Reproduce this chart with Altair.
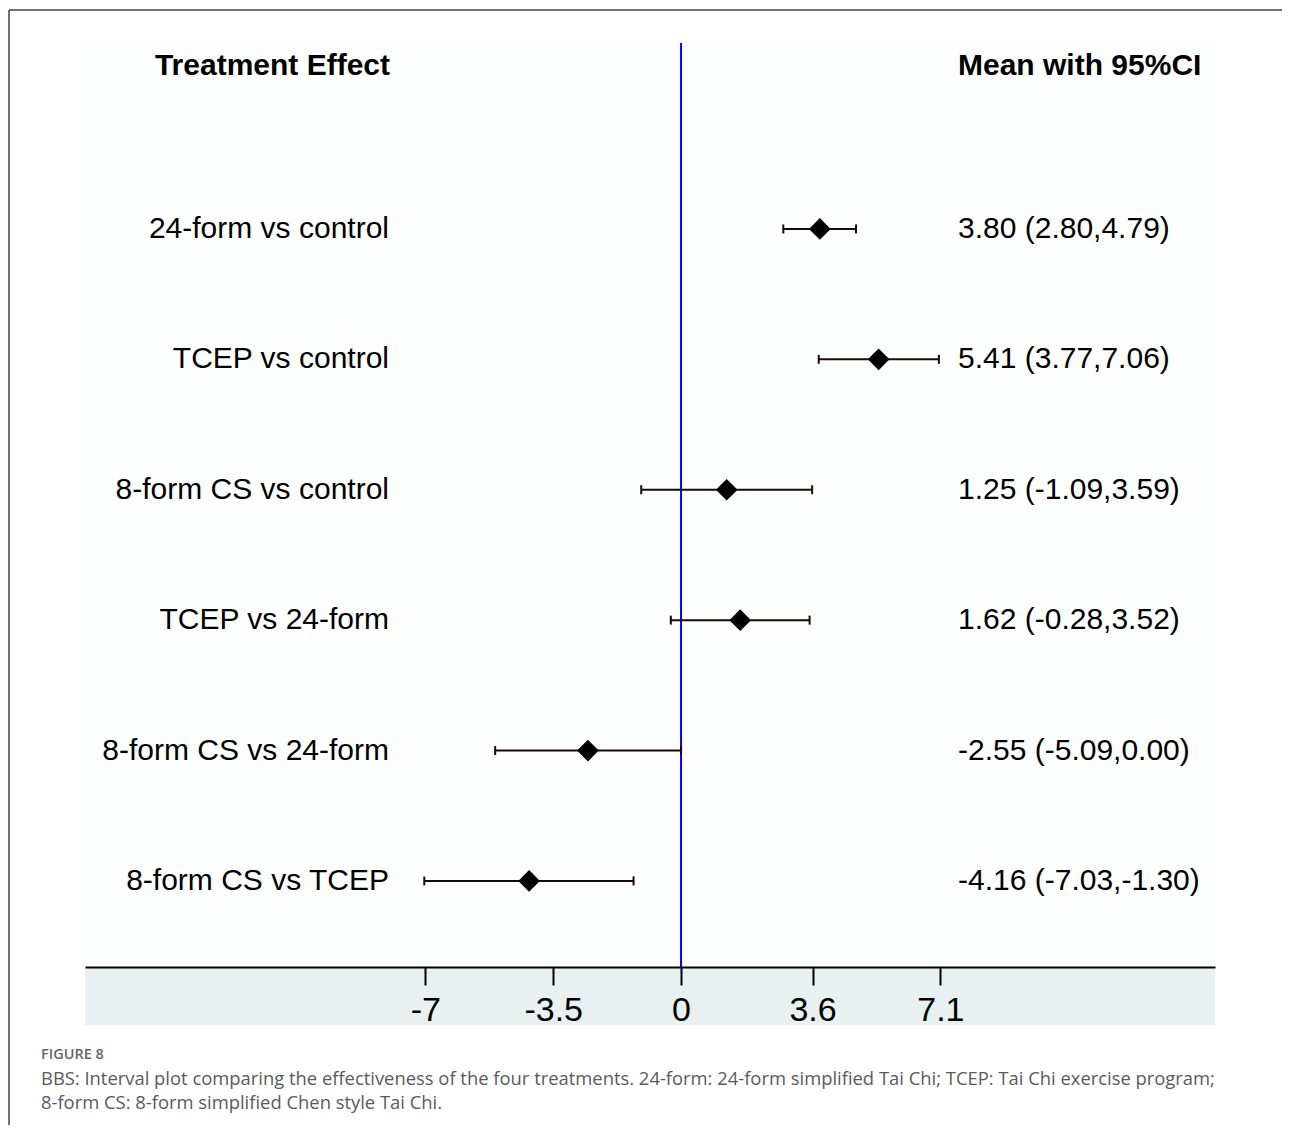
import altair as alt
import pandas as pd

# ---- data ----
labels = ["24-form vs control", "TCEP vs control", "8-form CS vs control",
          "TCEP vs 24-form", "8-form CS vs 24-form", "8-form CS vs TCEP"]
means = [3.80, 5.41, 1.25, 1.62, -2.55, -4.16]
lows = [2.80, 3.77, -1.09, -0.28, -5.09, -7.03]
highs = [4.79, 7.06, 3.59, 3.52, 0.00, -1.30]
ticks = [-7, -3.5, 0, 3.6, 7.1]
left_header = "Treatment Effect"
right_header = "Mean with 95%CI"
fig_label = "FIGURE 8"
caption_lines = [
    "BBS: Interval plot comparing the effectiveness of the four treatments. 24-form: 24-form simplified Tai Chi; TCEP: Tai Chi exercise program;",
    "8-form CS: 8-form simplified Chen style Tai Chi.",
]

df = pd.DataFrame({
    "label": labels, "mean": means, "lo": lows, "hi": highs,
    "row": list(range(1, len(labels) + 1)),
})
df["txt"] = [f"{m:.2f} ({l:.2f},{h:.2f})" for m, l, h in zip(means, lows, highs)]
zero_df = pd.DataFrame({"zero": [0]})
one = pd.DataFrame({"a": [0]})

W, H = 1130, 924
FONT = "Liberation Sans"
LINE = "#1a0808"

xscale = alt.Scale(domain=[-16.32, 14.62], nice=False, zero=False)
yscale = alt.Scale(domain=[-0.426, 6.66], reverse=True, nice=False, zero=False)
xaxis = alt.Axis(values=ticks, grid=False, domainColor="black", domainWidth=2,
                 tickColor="black", tickWidth=2, tickSize=18, labelFontSize=34,
                 labelColor="black", labelPadding=8, labelFont=FONT, zindex=1,
                 labelFlush=False, labelOverlap=False, labelExpr="datum.value + ''")
Y = alt.Y("row:Q", scale=yscale, axis=None)

band = alt.Chart(one).mark_rect(color="#e8f0f2").encode(
    x=alt.value(0), x2=alt.value(W), y=alt.value(H), y2=alt.value(H + 58))

vline = alt.Chart(zero_df).mark_rule(color="#0000ff", strokeWidth=2).encode(
    x=alt.X("zero:Q", scale=xscale, axis=xaxis, title=None),
    y=alt.value(0), y2=alt.value(H))

err = alt.Chart(df).mark_rule(color=LINE, strokeWidth=2).encode(
    x=alt.X("lo:Q", scale=xscale, axis=xaxis, title=None), x2="hi:Q", y=Y)

capL = alt.Chart(df).mark_tick(orient="vertical", size=9, thickness=2, color=LINE, opacity=1).encode(
    x=alt.X("lo:Q", scale=xscale, axis=xaxis, title=None), y=Y)
capR = alt.Chart(df).mark_tick(orient="vertical", size=9, thickness=2, color=LINE, opacity=1).encode(
    x=alt.X("hi:Q", scale=xscale, axis=xaxis, title=None), y=Y)

diam = alt.Chart(df).mark_point(shape="diamond", filled=True, size=470, color="black", opacity=1).encode(
    x=alt.X("mean:Q", scale=xscale, axis=xaxis, title=None), y=Y)

lab = alt.Chart(df).mark_text(align="right", baseline="middle", fontSize=30, font=FONT, color="black").encode(
    x=alt.value(304), y=Y, text="label:N")
val = alt.Chart(df).mark_text(align="left", baseline="middle", fontSize=30, font=FONT, color="black").encode(
    x=alt.value(873), y=Y, text="txt:N")

hdrL = alt.Chart(one).mark_text(align="right", baseline="middle", fontSize=30, font=FONT,
                                fontWeight="bold", color="black").encode(
    x=alt.value(305), y=alt.value(23), text=alt.value(left_header))
hdrR = alt.Chart(one).mark_text(align="left", baseline="middle", fontSize=30, font=FONT,
                                fontWeight="bold", color="black").encode(
    x=alt.value(873), y=alt.value(23), text=alt.value(right_header))

figlab = alt.Chart(one).mark_text(align="left", baseline="middle", fontSize=14.5, font="Open Sans",
                                  fontWeight=600, color="#666666").encode(
    x=alt.value(-44), y=alt.value(1012), text=alt.value(fig_label))
cap1 = alt.Chart(one).mark_text(align="left", baseline="middle", fontSize=18.4, font="Open Sans",
                                color="#5a5a5a").encode(
    x=alt.value(-44), y=alt.value(1036), text=alt.value(caption_lines[0]))
cap2 = alt.Chart(one).mark_text(align="left", baseline="middle", fontSize=18.4, font="Open Sans",
                                color="#5a5a5a").encode(
    x=alt.value(-44), y=alt.value(1060), text=alt.value(caption_lines[1]))

frameV = alt.Chart(one).mark_rule(color="#444444", strokeWidth=1.5).encode(
    x=alt.value(-76), y=alt.value(-33), y2=alt.value(H + 160))
frameH = alt.Chart(one).mark_rule(color="#444444", strokeWidth=1.5).encode(
    x=alt.value(-76), x2=alt.value(W + 70), y=alt.value(-33))

chart = alt.layer(
    band, vline, err, capL, capR, diam, lab, val, hdrL, hdrR,
    figlab, cap1, cap2, frameV, frameH
).properties(
    width=W, height=H,
    padding={"left": 77, "top": 35, "right": 67, "bottom": 158},
    autosize=alt.AutoSizeParams(type="none"),
).configure_view(strokeOpacity=0, fill="#fdfefe")

chart.save("out.html", embed_options={"renderer": "svg", "actions": False})
